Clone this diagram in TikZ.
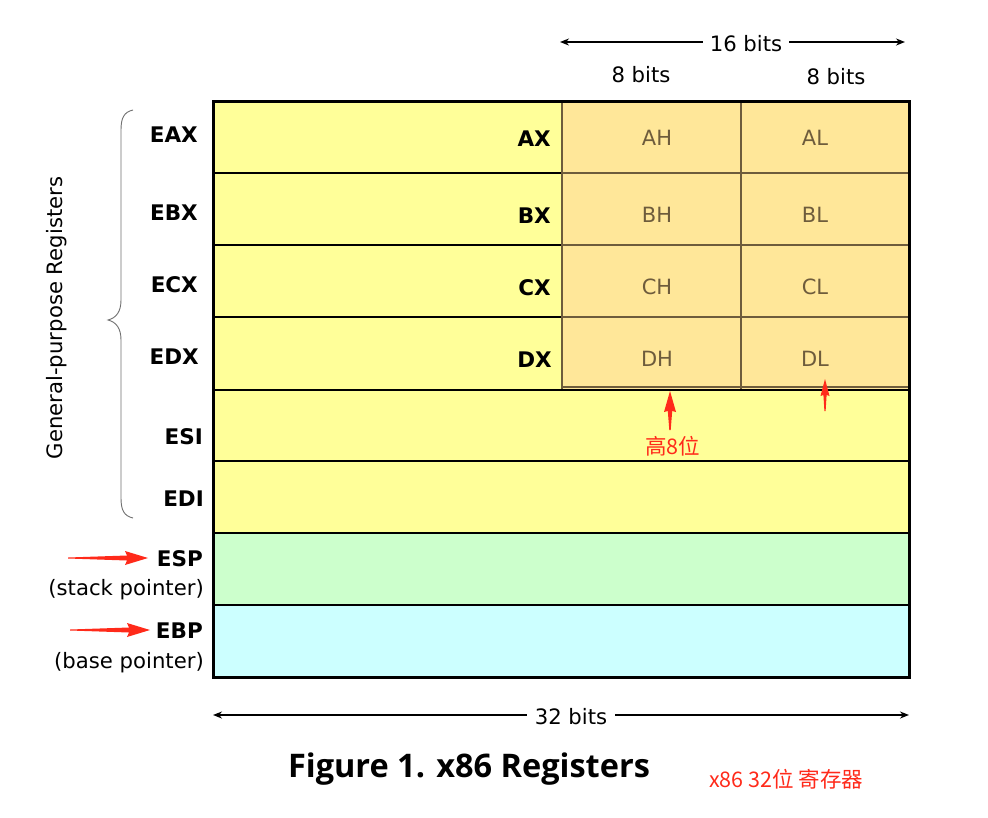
\documentclass[tikz,border=0pt]{standalone}
\usepackage{fontspec}
\setmainfont{DejaVu Sans}
\newfontfamily\cjk{Noto Sans CJK SC}
\newfontfamily\titlefont{Open Sans}
\usetikzlibrary{arrows.meta}
\definecolor{regyellow}{HTML}{FFFF99}
\definecolor{regorange}{HTML}{FFE799}
\definecolor{reggreen}{HTML}{CCFFCC}
\definecolor{regcyan}{HTML}{CCFFFF}
\definecolor{regbrown}{HTML}{6E5C3C}
\definecolor{arrred}{HTML}{FF2A1A}
\definecolor{bracegray}{HTML}{707070}
\tikzset{
  reglabel/.style={font=\bfseries\fontsize{21.5}{25}\selectfont, inner sep=0pt, anchor=base east},
  sublabel/.style={font=\fontsize{21.2}{25}\selectfont, inner sep=0pt, anchor=base east},
  halflabel/.style={font=\fontsize{21}{25}\selectfont, text=regbrown, inner sep=0pt, anchor=base},
  bitlabel/.style={font=\fontsize{21.2}{25}\selectfont, inner sep=0pt, anchor=base},
  sizearrow/.style={-{Stealth[length=9pt,width=7pt]}, line width=2pt},
  redtxt/.style={font=\cjk\fontsize{21.5}{25}\selectfont, text=arrred, inner sep=0pt, anchor=base west},
}
\begin{document}
\begin{tikzpicture}[x=1pt,y=-1pt]
\useasboundingbox (0,0) rectangle (988,817);
\fill[white] (0,0) rectangle (988,817);
% fills
\fill[regyellow] (213,101) rectangle (909,533);
\fill[regorange] (562,101) rectangle (909,389);
\fill[reggreen] (213,533) rectangle (909,605);
\fill[regcyan] (213,605) rectangle (909,677);
% black separators left part
\foreach \yy in {173,245,317}
  \draw[line width=2.6pt] (213,\yy) -- (562,\yy);
% brown inner grid
\draw[regbrown, line width=2.6pt] (562,101) -- (562,389);
\draw[regbrown, line width=2.6pt] (741,101) -- (741,389);
\foreach \yy in {173,245,317}
  \draw[regbrown, line width=2.6pt] (562,\yy) -- (909,\yy);
\draw[regbrown, line width=2pt] (562,387) -- (909,387);
\foreach \yy in {390,461,533,605}
  \draw[line width=2.6pt] (213,\yy) -- (909,\yy);
\draw[line width=3pt] (213,101) rectangle (909,677);

% register labels
\node[reglabel] (eax) at (198,142) {EAX};
\node[reglabel] (ebx) at (198,220) {EBX};
\node[reglabel] (ecx) at (198,292) {ECX};
\node[reglabel] (edx) at (199,364) {EDX};
\node[reglabel] (esi) at (203,444) {ESI};
\node[reglabel] (edi) at (204,506) {EDI};
\node[reglabel] (esp) at (203,566) {ESP};
\node[sublabel] (espd) at (204,595) {(stack pointer)};
\node[reglabel] (ebp) at (203,638) {EBP};
\node[sublabel] (ebpd) at (204,668) {(base pointer)};

\node[reglabel] (ax) at (551,146) {AX};
\node[reglabel] (bx) at (551,223) {BX};
\node[reglabel] (cx) at (551,295) {CX};
\node[reglabel] (dx) at (552,367) {DX};

\node[halflabel] (ah) at (657,145) {AH};
\node[halflabel] (al) at (815,145) {AL};
\node[halflabel] (bh) at (657,222) {BH};
\node[halflabel] (bl) at (815,222) {BL};
\node[halflabel] (ch) at (657,294) {CH};
\node[halflabel] (cl) at (815,294) {CL};
\node[halflabel] (dh) at (657,366) {DH};
\node[halflabel] (dl) at (815,366) {DL};

% bit widths
\node[bitlabel, fill=white, inner xsep=7pt] (b16) at (746,51) {16 bits};
\coordinate (b16l) at (560,42);
\coordinate (b16r) at (905,42);
\draw[sizearrow] (b16.west |- b16l) -- (b16l);
\draw[sizearrow] (b16.east |- b16r) -- (b16r);
\node[bitlabel] (b8a) at (641,82) {8 bits};
\node[bitlabel] (b8b) at (836,84) {8 bits};

\node[bitlabel, inner xsep=8pt] (b32) at (571,724) {32 bits};
\coordinate (b32l) at (213,715);
\coordinate (b32r) at (909,715);
\draw[sizearrow] (b32.west |- b32l) -- (b32l);
\draw[sizearrow] (b32.east |- b32r) -- (b32r);

% brace and vertical caption
\draw[bracegray, line width=0.9pt] (133,110) .. controls (124,112) and (121,118) .. (121,130) -- (121,300) .. controls (121,312) and (116,318) .. (108,320) .. controls (116,322) and (121,328) .. (121,340) -- (121,498) .. controls (121,510) and (124,516) .. (133,518);
\node[font=\fontsize{21.2}{25}\selectfont, rotate=90, inner sep=0pt] (gpr) at (57,318) {General-purpose Registers};

% red arrows
\fill[arrred] (68,557.5) -- (127,555.5) -- (125,551) -- (148,558) -- (125,565) -- (127,560.5) -- (68,558.5) -- cycle;
\fill[arrred] (70,629.5) -- (129,627.5) -- (127,623) -- (150,630) -- (127,637) -- (129,632.5) -- (70,630.5) -- cycle;
\fill[arrred] (669.3,430) -- (667.8,411) -- (664,412) -- (670,391) -- (676,412) -- (672.2,411) -- (670.7,430) -- cycle;
\fill[arrred] (824.4,411) -- (823.4,395) -- (820.5,396) -- (825,379) -- (829.5,396) -- (826.6,395) -- (825.6,411) -- cycle;

\node[redtxt] (high) at (645,454) {高8位};

% title
\node[font=\titlefont\bfseries\fontsize{32.5}{38}\selectfont, inner sep=0pt, anchor=base] (title) at (469,777) {Figure 1. x86 Registers};
\node[redtxt] (cn) at (709,787) {x86 32位 寄存器};
\end{tikzpicture}
\end{document}
